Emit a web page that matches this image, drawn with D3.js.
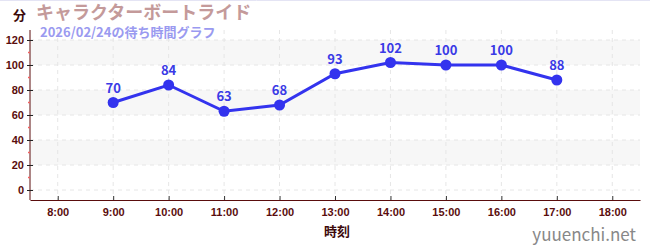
<!DOCTYPE html>
<html>
<head>
<meta charset="utf-8">
<script src="https://cdn.jsdelivr.net/npm/d3@7"></script>
<style>
  body { margin: 0; background: #fff; }
  svg { display: block; font-family: "Noto Sans CJK JP", "Noto Sans", sans-serif; }
</style>
</head>
<body>
<svg id="chart"></svg>
<script>
const hours = [9, 10, 11, 12, 13, 14, 15, 16, 17];
const waits = [70, 84, 63, 68, 93, 102, 100, 100, 88];
const xTicks = [8, 9, 10, 11, 12, 13, 14, 15, 16, 17, 18];
const yTicks = [0, 20, 40, 60, 80, 100, 120];
const yMinor = [10, 30, 50, 70, 90, 110];

const W = 650, H = 250;
const svg = d3.select("#chart").attr("width", W).attr("height", H);

const x = d3.scaleLinear().domain([7.5, 18.5]).range([30, 640]);
const y = d3.scaleLinear().domain([-8, 128]).range([200, 30]);

const axisColor = "#5a0d0d";

// top border line
svg.append("line")
    .attr("x1", 0).attr("x2", W).attr("y1", 0.5).attr("y2", 0.5)
    .attr("stroke", "#e4e4f4");

// bands
const bands = [[100, 120], [60, 80], [20, 40]];
svg.selectAll(".band")
    .data(bands)
    .join("rect")
    .attr("x", x.range()[0])
    .attr("width", x.range()[1] - x.range()[0])
    .attr("y", d => y(d[1]))
    .attr("height", d => y(d[0]) - y(d[1]))
    .attr("fill", "#f7f7f7");

// grid
svg.selectAll(".vgrid")
    .data(xTicks)
    .join("line")
    .attr("x1", d => x(d)).attr("x2", d => x(d))
    .attr("y1", y.range()[1]).attr("y2", y.range()[0])
    .attr("stroke", "#e6e6e6")
    .attr("stroke-dasharray", "4,4");

svg.selectAll(".hgrid")
    .data(yTicks)
    .join("line")
    .attr("x1", x.range()[0]).attr("x2", x.range()[1])
    .attr("y1", d => y(d)).attr("y2", d => y(d))
    .attr("stroke", "#e6e6e6")
    .attr("stroke-dasharray", "4,4");

// y axis
const yAxis = svg.append("g")
    .attr("transform", "translate(30,0)")
    .call(d3.axisLeft(y).tickValues(yTicks).tickSize(3).tickPadding(3));
yAxis.select(".domain").attr("stroke", axisColor).attr("d", `M0,${y.range()[1]}V${y.range()[0]}`);
yAxis.selectAll(".tick line").attr("stroke", "#222").attr("x1", 3);
yAxis.selectAll(".tick text")
    .attr("fill", axisColor).attr("font-size", 11).attr("font-weight", "bold");

svg.selectAll(".minor")
    .data(yMinor)
    .join("line")
    .attr("x1", 28).attr("x2", 30)
    .attr("y1", d => y(d)).attr("y2", d => y(d))
    .attr("stroke", "#f06060").attr("stroke-width", 1.5);

// x axis
const xAxis = svg.append("g")
    .attr("transform", "translate(0,200)")
    .call(d3.axisBottom(x).tickValues(xTicks).tickSize(0).tickPadding(8)
        .tickFormat(d => d + ":00"));
xAxis.select(".domain").attr("stroke", axisColor).attr("stroke-width", 1.2);
xAxis.selectAll(".tick line").attr("y2", -4).attr("stroke", "#333");
xAxis.selectAll(".tick text")
    .attr("fill", axisColor).attr("font-size", 11).attr("font-weight", "bold");

// line
const pts = hours.map((h, i) => ({ h, v: waits[i] }));
const line = d3.line().x(d => x(d.h)).y(d => y(d.v));

svg.append("path")
    .datum(pts)
    .attr("d", line)
    .attr("fill", "none")
    .attr("stroke", "#3333ee")
    .attr("stroke-width", 3);

svg.selectAll(".dot")
    .data(pts)
    .join("circle")
    .attr("cx", d => x(d.h))
    .attr("cy", d => y(d.v))
    .attr("r", 5.5)
    .attr("fill", "#3333ee");

svg.selectAll(".lbl")
    .data(pts)
    .join("text")
    .attr("x", d => x(d.h))
    .attr("y", d => y(d.v) - 10)
    .attr("text-anchor", "middle")
    .attr("font-size", 13)
    .attr("font-weight", "bold")
    .attr("fill", "#3a3ae6")
    .text(d => d.v);

// titles
svg.append("text")
    .attr("x", 13).attr("y", 20)
    .attr("font-size", 13).attr("font-weight", "bold")
    .attr("fill", "#3d0a0a")
    .text("分");

svg.append("text")
    .attr("x", 36).attr("y", 19)
    .attr("font-size", 18).attr("font-weight", "bold")
    .attr("fill", "#c49a9a")
    .text("キャラクターボートライド");

svg.append("text")
    .attr("x", 40).attr("y", 37)
    .attr("font-size", 13).attr("font-weight", "bold")
    .attr("fill", "#9a9af0")
    .text("2026/02/24の待ち時間グラフ");

svg.append("text")
    .attr("x", 337).attr("y", 236)
    .attr("text-anchor", "middle")
    .attr("font-size", 13).attr("font-weight", "bold")
    .attr("fill", "#3d0a0a")
    .text("時刻");

svg.append("text")
    .attr("x", 636).attr("y", 241)
    .attr("text-anchor", "end")
    .attr("font-size", 17)
    .attr("fill", "#888")
    .text("yuuenchi.net");
</script>
</body>
</html>
